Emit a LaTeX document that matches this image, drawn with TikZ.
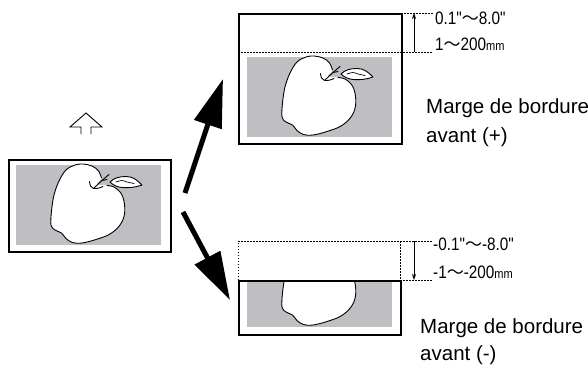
\documentclass[tikz,border=0pt]{standalone}
\usepackage{fontspec}
\setmainfont{Liberation Sans}
\newfontfamily\narrowfont[FakeStretch=0.85]{Liberation Sans}
\newfontfamily\cjk{Noto Sans CJK JP}
\usetikzlibrary{arrows.meta}
\definecolor{photo}{RGB}{190,190,195}
\newcommand\wave{{\cjk\fontsize{17}{20}\selectfont ～}}
\tikzset{
  frame/.style={line width=2pt},
  guide/.style={line width=0.8pt, dash pattern=on 1.5pt off 1.5pt},
  dimarrow/.style={line width=0.8pt, -{Stealth[length=6pt,width=4pt]}},
  bigarrow/.style={line width=5pt, -{Triangle[length=48pt,width=28pt]}},
  outline/.style={line width=0.9pt, line join=round, line cap=round},
  dimtext/.style={anchor=base west, inner sep=0pt, font=\narrowfont\fontsize{18}{20}\selectfont},
  caption/.style={anchor=base west, inner sep=0pt, font=\fontsize{20.5}{24}\selectfont},
}
% the photograph: grey print area with an apple, in page units
\newcommand\photograph{%
  \fill[photo] (247,57) rectangle (392,137);
  % white body of the apple
  \fill[white] plot[smooth cycle, tension=0.6] coordinates {
    (338,77.5) (345,79) (351.5,84.5) (355,93) (355.5,106) (351,117) (341,126)
    (327,131.5) (313,135) (303.5,134.5) (297,130.5) (292.5,125) (286,122)
    (282,117) (282.5,103) (285,87) (290,73) (297,62) (306,57) (314,56)
    (323,58) (329.5,63) (332.5,70) (328,76)};
  % outline of the body
  \draw[outline] plot[smooth, tension=0.6] coordinates {
    (338,77.5) (345,79) (351.5,84.5) (355,93) (355.5,106) (351,117) (341,126)
    (327,131.5) (313,135) (303.5,134.5) (297,130.5) (292.5,125) (286,122)
    (282,117) (282.5,103) (285,87) (290,73) (297,62) (306,57) (314,56)
    (323,58) (329.5,63) (332.5,70)};
  % stalk cavity
  \draw[outline] plot[smooth, tension=0.6] coordinates {
    (320.5,73.5) (321.5,78) (324.5,80.5) (330,80) (334,78.5)};
  % stalk
  \draw[outline] (325,80) -- (333,72.5) -- (340,66.5);
  \draw[outline] (333,72.5) -- (338,71.5);
  % leaf, pointed towards the right
  \filldraw[outline, fill=white] (341,74) .. controls (345,70) and (350,68.5) .. (357,68.5)
    .. controls (364,68.5) and (368,72) .. (373,77)
    .. controls (366,79.5) and (360,80) .. (353,79.5)
    .. controls (348,79) and (344,77) .. cycle;
  \draw[outline, line width=0.7pt] plot[smooth, tension=0.6] coordinates {
    (347,74) (353,72.5) (358,74) (365,75.5)};
}
\begin{document}
\begin{tikzpicture}[x=1pt, y=-1pt]
  \useasboundingbox (0,0) rectangle (588,367);

  % original document on the left
  \begin{scope}[shift={(-231,108)}]
    \photograph
  \end{scope}
  \node[frame, draw, minimum width=162pt, minimum height=92pt, anchor=north west] (orig) at (8,159) {};

  % small hollow arrow above the original
  \draw[line width=0.9pt, line join=miter] (81,134) -- (81,127) -- (70,127) -- (86,113)
    -- (102,127) -- (91,127) -- (91,134);

  % shifted up: positive edge margin
  \photograph
  \node[frame, draw, minimum width=163pt, minimum height=130pt, anchor=north west] (plus) at (238,13) {};
  \draw[guide] (238,52) -- (433,52);
  \draw[guide] (401,13) -- (433,13);
  \draw[dimarrow] (414,52) -- (414,13);
  \node[dimtext] (plusInch) at (435,24) {0.1"\wave8.0"};
  \node[dimtext] (plusMm) at (435,50) {1\wave200{\fontsize{13}{14}\selectfont mm}};
  \node[caption] (plusCapA) at (426,113) {Marge de bordure};
  \node[caption] (plusCapB) at (426,142) {avant (+)};

  % shifted down: negative edge margin
  \begin{scope}
    \clip (238,280) rectangle (400,334);
    \begin{scope}[shift={(0,190)}]
      \photograph
    \end{scope}
  \end{scope}
  \node[frame, draw, minimum width=162pt, minimum height=54pt, anchor=north west] (minus) at (238,280) {};
  \draw[guide] (238,280) -- (238,241) -- (400,241) -- (400,280);
  \draw[guide] (400,241) -- (433,241);
  \draw[guide] (400,280) -- (433,280);
  \draw[dimarrow] (414,241) -- (414,280);
  \node[dimtext] (minusInch) at (433,250) {-0.1"\wave-8.0"};
  \node[dimtext] (minusMm) at (433,278) {-1\wave-200{\fontsize{13}{14}\selectfont mm}};
  \node[caption] (minusCapA) at (420,333) {Marge de bordure};
  \node[caption] (minusCapB) at (420,360) {avant (-)};

  % movement arrows
  \coordinate (upTail) at (185,193);
  \coordinate (upTip) at (223,79);
  \coordinate (downTail) at (183,212);
  \coordinate (downTip) at (230,300);
  \draw[bigarrow] (upTail) -- (upTip);
  \draw[bigarrow] (downTail) -- (downTip);
\end{tikzpicture}
\end{document}
